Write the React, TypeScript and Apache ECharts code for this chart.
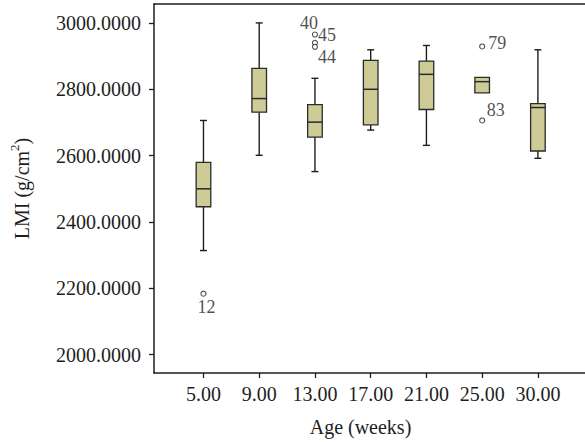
import React, { useEffect, useRef } from "react";
import * as echarts from "echarts";

// ---- data ----
const categories = ["5.00", "9.00", "13.00", "17.00", "21.00", "25.00", "30.00"];
const whiskerLow = [2314, 2601, 2552, 2677, 2631, 2789, 2592];
const quartile1 = [2446, 2731, 2656, 2693, 2739, 2789, 2614];
const medians = [2500, 2772, 2701, 2800, 2845, 2823, 2745];
const quartile3 = [2580, 2863, 2754, 2887, 2885, 2836, 2757];
const whiskerHigh = [2706, 3000, 2833, 2919, 2932, 2836, 2919];

const outlierGroup = [0, 2, 2, 2, 5, 5];
const outlierValues = [2184, 2965, 2940, 2928, 2929, 2706];
const outlierCases = ["12", "40", "45", "44", "79", "83"];

const yTicks = [2000, 2200, 2400, 2600, 2800, 3000];

// label placement (style only)
const outlierLabelOffsets: [number, number][] = [
  [3, 13],
  [-6, -12],
  [12, -7.5],
  [12, 10],
  [15, -3],
  [13.5, -10],
];

const FONT = "'Liberation Serif', 'Times New Roman', serif";
const INK = "#1e1e1e";

export default function App() {
  const ref = useRef<HTMLDivElement>(null);

  useEffect(() => {
    document.body.style.margin = "0";
    if (!ref.current) return;
    const chart = echarts.init(ref.current, undefined, { renderer: "svg" });

    const boxData = categories.map((_, i) => [
      i,
      whiskerLow[i],
      quartile1[i],
      medians[i],
      quartile3[i],
      whiskerHigh[i],
    ]);

    const outlierData = outlierValues.map((v, k) => ({
      value: [outlierGroup[k], v, outlierCases[k]],
      label: { offset: outlierLabelOffsets[k] },
    }));

    const xMin = -0.8875;
    const xMax = 6.845;

    const option: any = {
      animation: false,
      grid: { left: 152, right: 0, top: 4, bottom: 67 },
      xAxis: [
        {
          type: "value",
          min: xMin,
          max: xMax,
          splitLine: { show: false },
          axisLine: { show: true, onZero: false, lineStyle: { color: INK, width: 1.5 } },
          axisTick: {
            show: true,
            length: 5,
            lineStyle: { color: INK, width: 1.3 },
            customValues: categories.map((_, i) => i),
          },
          axisLabel: {
            customValues: categories.map((_, i) => i),
            formatter: (v: number) => categories[Math.round(v)] ?? "",
            fontFamily: FONT,
            fontSize: 20,
            color: INK,
            margin: 11,
          },
          name: "Age (weeks)",
          nameLocation: "middle",
          nameGap: 44,
          nameTextStyle: {
            fontFamily: FONT,
            fontSize: 20,
            color: INK,
            padding: [0, 18, 0, 0],
          },
        },
        {
          type: "value",
          position: "top",
          min: xMin,
          max: xMax,
          splitLine: { show: false },
          axisLine: { show: true, onZero: false, lineStyle: { color: INK, width: 1.5 } },
          axisTick: { show: false },
          axisLabel: { show: false },
        },
      ],
      yAxis: {
        type: "value",
        min: 1945,
        max: 3057,
        splitLine: { show: false },
        axisLine: { show: true, onZero: false, lineStyle: { color: INK, width: 1.5 } },
        axisTick: {
          show: true,
          length: 5,
          lineStyle: { color: INK, width: 1.3 },
          customValues: yTicks,
        },
        axisLabel: {
          customValues: yTicks,
          formatter: (v: number) => v.toFixed(4),
          fontFamily: FONT,
          fontSize: 20,
          color: INK,
          margin: 13,
        },
        name: "LMI (g/cm{sup|2})",
        nameLocation: "middle",
        nameGap: 118,
        nameTextStyle: {
          fontFamily: FONT,
          fontSize: 20,
          color: INK,
          lineHeight: 28,
          rich: {
            sup: {
              fontFamily: FONT,
              fontSize: 13,
              color: INK,
              verticalAlign: "top",
              lineHeight: 14,
            },
          },
        },
      },
      series: [
        {
          type: "custom",
          xAxisIndex: 0,
          data: boxData,
          encode: { x: 0, y: [1, 2, 3, 4, 5] },
          renderItem: (_params: any, api: any) => {
            const x = api.value(0);
            const lo = api.coord([x, api.value(1)]);
            const q1 = api.coord([x, api.value(2)]);
            const md = api.coord([x, api.value(3)]);
            const q3 = api.coord([x, api.value(4)]);
            const hi = api.coord([x, api.value(5)]);
            const cx = lo[0];
            const bw = 14.6;
            const cw = 7;
            const ls = { stroke: INK, lineWidth: 1.4 };
            const children: any[] = [];
            if (api.value(5) > api.value(4)) {
              children.push({ type: "line", shape: { x1: cx, y1: hi[1], x2: cx, y2: q3[1] }, style: ls });
              children.push({ type: "line", shape: { x1: cx - cw / 2, y1: hi[1], x2: cx + cw / 2, y2: hi[1] }, style: ls });
            }
            if (api.value(1) < api.value(2)) {
              children.push({ type: "line", shape: { x1: cx, y1: q1[1], x2: cx, y2: lo[1] }, style: ls });
              children.push({ type: "line", shape: { x1: cx - cw / 2, y1: lo[1], x2: cx + cw / 2, y2: lo[1] }, style: ls });
            }
            children.push({
              type: "rect",
              shape: { x: cx - bw / 2, y: q3[1], width: bw, height: q1[1] - q3[1] },
              style: { fill: "#cfcb97", stroke: "#2a2a2a", lineWidth: 1.3 },
            });
            children.push({
              type: "line",
              shape: { x1: cx - bw / 2, y1: md[1], x2: cx + bw / 2, y2: md[1] },
              style: { stroke: "#2a2a2a", lineWidth: 1.5 },
            });
            return { type: "group", children };
          },
        },
        {
          type: "scatter",
          xAxisIndex: 0,
          data: outlierData,
          symbol: "circle",
          symbolSize: 5,
          itemStyle: { color: "#fff", borderColor: INK, borderWidth: 1.1 },
          label: {
            show: true,
            position: "inside",
            formatter: (p: any) => p.value[2],
            fontFamily: FONT,
            fontSize: 18,
            color: INK,
          },
          z: 5,
        },
      ],
    };

    chart.setOption(option);
    return () => chart.dispose();
  }, []);

  return (
    <div
      ref={ref}
      style={{ width: 585, height: 442, position: "absolute", left: 0, top: 0, background: "#fff" }}
    />
  );
}
